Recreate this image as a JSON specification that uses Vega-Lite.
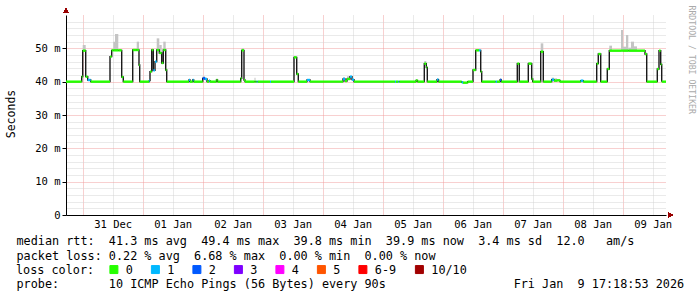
{
  "$schema": "https://vega.github.io/schema/vega-lite/v6.json",
  "width": 600,
  "height": 200,
  "autosize": {"type": "none"},
  "padding": {"left": 66, "top": 15, "right": 31, "bottom": 82},
  "background": "white",
  "config": {
    "view": {"stroke": null},
    "font": "DejaVu Sans Mono",
    "axis": {"labelFont": "DejaVu Sans Mono", "titleFont": "DejaVu Sans Mono", "titleFontWeight": "normal", "labelColor": "#000", "titleColor": "#000"}
  },
  "data": {"values": [
    {"t":"2025-12-30T17:19","t2":"2025-12-30T23:36","med":40.0,"loss":"0"},
    {"t":"2025-12-30T23:36","t2":"2025-12-31T00:00","med":41.5,"loss":"0"},
    {"t":"2025-12-31T00:00","t2":"2025-12-31T01:12","med":49.3,"loss":"0","smoke":51},
    {"t":"2025-12-31T01:12","t2":"2025-12-31T02:00","med":41.5,"loss":"0"},
    {"t":"2025-12-31T02:00","t2":"2025-12-31T03:12","med":40.5,"loss":"1"},
    {"t":"2025-12-31T03:12","t2":"2025-12-31T10:55","med":40.0,"loss":"0"},
    {"t":"2025-12-31T10:55","t2":"2025-12-31T11:36","med":47.5,"loss":"0"},
    {"t":"2025-12-31T11:36","t2":"2025-12-31T12:14","med":49.4,"loss":"0"},
    {"t":"2025-12-31T12:14","t2":"2025-12-31T12:55","med":49.4,"loss":"0","smoke":52},
    {"t":"2025-12-31T12:55","t2":"2025-12-31T14:14","med":49.4,"loss":"0","smoke":54.3},
    {"t":"2025-12-31T14:14","t2":"2025-12-31T15:36","med":49.4,"loss":"0"},
    {"t":"2025-12-31T15:36","t2":"2025-12-31T16:14","med":41.4,"loss":"0"},
    {"t":"2025-12-31T16:14","t2":"2025-12-31T20:00","med":40.0,"loss":"0"},
    {"t":"2025-12-31T20:00","t2":"2025-12-31T21:36","med":49.5,"loss":"0"},
    {"t":"2025-12-31T21:36","t2":"2025-12-31T22:31","med":49.5,"loss":"0","smoke":52},
    {"t":"2025-12-31T22:31","t2":"2025-12-31T22:48","med":45.0,"loss":"0"},
    {"t":"2025-12-31T22:48","t2":"2026-01-01T02:38","med":40.0,"loss":"0"},
    {"t":"2026-01-01T02:38","t2":"2026-01-01T02:55","med":40.3,"loss":"1"},
    {"t":"2026-01-01T02:55","t2":"2026-01-01T03:36","med":43.0,"loss":"0"},
    {"t":"2026-01-01T03:36","t2":"2026-01-01T04:14","med":49.5,"loss":"0"},
    {"t":"2026-01-01T04:14","t2":"2026-01-01T04:55","med":43.4,"loss":"1"},
    {"t":"2026-01-01T04:55","t2":"2026-01-01T05:36","med":46.0,"loss":"1"},
    {"t":"2026-01-01T05:36","t2":"2026-01-01T06:38","med":49.5,"loss":"0","smoke":53},
    {"t":"2026-01-01T06:38","t2":"2026-01-01T07:36","med":48.6,"loss":"0","smoke":51},
    {"t":"2026-01-01T07:36","t2":"2026-01-01T08:14","med":45.6,"loss":"0"},
    {"t":"2026-01-01T08:14","t2":"2026-01-01T09:12","med":49.5,"loss":"0","smoke":52},
    {"t":"2026-01-01T09:12","t2":"2026-01-01T09:36","med":43.5,"loss":"0"},
    {"t":"2026-01-01T09:36","t2":"2026-01-01T18:31","med":40.0,"loss":"0"},
    {"t":"2026-01-01T18:31","t2":"2026-01-01T18:55","med":40.5,"loss":"1"},
    {"t":"2026-01-01T18:55","t2":"2026-01-01T20:00","med":40.0,"loss":"0"},
    {"t":"2026-01-01T20:00","t2":"2026-01-01T20:24","med":40.5,"loss":"1"},
    {"t":"2026-01-01T20:24","t2":"2026-01-02T00:00","med":40.0,"loss":"0"},
    {"t":"2026-01-02T00:00","t2":"2026-01-02T00:55","med":41.0,"loss":"2","smoke":41.6},
    {"t":"2026-01-02T00:55","t2":"2026-01-02T01:43","med":40.8,"loss":"1"},
    {"t":"2026-01-02T01:43","t2":"2026-01-02T02:31","med":40.0,"loss":"0"},
    {"t":"2026-01-02T02:31","t2":"2026-01-02T02:55","med":40.3,"loss":"1"},
    {"t":"2026-01-02T02:55","t2":"2026-01-02T05:31","med":40.0,"loss":"0"},
    {"t":"2026-01-02T05:31","t2":"2026-01-02T05:55","med":40.5,"loss":"0"},
    {"t":"2026-01-02T05:55","t2":"2026-01-02T15:12","med":40.0,"loss":"0"},
    {"t":"2026-01-02T15:12","t2":"2026-01-02T15:36","med":41.0,"loss":"0"},
    {"t":"2026-01-02T15:36","t2":"2026-01-02T16:31","med":49.4,"loss":"0","smoke":50},
    {"t":"2026-01-02T16:31","t2":"2026-01-02T16:55","med":40.5,"loss":"0"},
    {"t":"2026-01-02T16:55","t2":"2026-01-02T20:43","med":40.0,"loss":"0"},
    {"t":"2026-01-02T20:43","t2":"2026-01-02T21:07","med":40.0,"loss":"0","smoke":41.2},
    {"t":"2026-01-02T21:07","t2":"2026-01-02T21:36","med":40.0,"loss":"0"},
    {"t":"2026-01-02T21:36","t2":"2026-01-02T22:00","med":40.0,"loss":"1"},
    {"t":"2026-01-02T22:00","t2":"2026-01-03T02:55","med":40.0,"loss":"0"},
    {"t":"2026-01-03T02:55","t2":"2026-01-03T03:19","med":40.0,"loss":"1"},
    {"t":"2026-01-03T03:19","t2":"2026-01-03T12:31","med":40.0,"loss":"0"},
    {"t":"2026-01-03T12:31","t2":"2026-01-03T13:36","med":47.3,"loss":"0"},
    {"t":"2026-01-03T13:36","t2":"2026-01-03T14:14","med":42.3,"loss":"0"},
    {"t":"2026-01-03T14:14","t2":"2026-01-03T17:43","med":40.0,"loss":"0"},
    {"t":"2026-01-03T17:43","t2":"2026-01-03T18:55","med":40.5,"loss":"1"},
    {"t":"2026-01-03T18:55","t2":"2026-01-04T08:07","med":40.0,"loss":"0"},
    {"t":"2026-01-04T08:07","t2":"2026-01-04T08:55","med":40.8,"loss":"1","smoke":41.3},
    {"t":"2026-01-04T08:55","t2":"2026-01-04T09:43","med":40.2,"loss":"0"},
    {"t":"2026-01-04T09:43","t2":"2026-01-04T10:55","med":40.8,"loss":"0","smoke":41.6},
    {"t":"2026-01-04T10:55","t2":"2026-01-04T11:43","med":41.5,"loss":"1"},
    {"t":"2026-01-04T11:43","t2":"2026-01-04T12:31","med":40.6,"loss":"1"},
    {"t":"2026-01-04T12:31","t2":"2026-01-05T04:55","med":40.0,"loss":"0"},
    {"t":"2026-01-05T04:55","t2":"2026-01-05T05:19","med":40.0,"loss":"1"},
    {"t":"2026-01-05T05:19","t2":"2026-01-05T06:14","med":40.0,"loss":"0"},
    {"t":"2026-01-05T06:14","t2":"2026-01-05T06:38","med":40.0,"loss":"1"},
    {"t":"2026-01-05T06:38","t2":"2026-01-05T13:19","med":40.0,"loss":"0"},
    {"t":"2026-01-05T13:19","t2":"2026-01-05T13:55","med":40.4,"loss":"0"},
    {"t":"2026-01-05T13:55","t2":"2026-01-05T16:38","med":40.0,"loss":"0"},
    {"t":"2026-01-05T16:38","t2":"2026-01-05T17:26","med":45.4,"loss":"0","smoke":46.2},
    {"t":"2026-01-05T17:26","t2":"2026-01-05T17:50","med":44.3,"loss":"0"},
    {"t":"2026-01-05T17:50","t2":"2026-01-05T21:43","med":40.0,"loss":"0"},
    {"t":"2026-01-05T21:43","t2":"2026-01-05T22:19","med":40.6,"loss":"1","smoke":41},
    {"t":"2026-01-05T22:19","t2":"2026-01-06T07:36","med":40.0,"loss":"0"},
    {"t":"2026-01-06T07:36","t2":"2026-01-06T08:07","med":39.8,"loss":"1"},
    {"t":"2026-01-06T08:07","t2":"2026-01-06T10:00","med":39.7,"loss":"0"},
    {"t":"2026-01-06T10:00","t2":"2026-01-06T12:07","med":40.0,"loss":"0"},
    {"t":"2026-01-06T12:07","t2":"2026-01-06T13:12","med":43.5,"loss":"0"},
    {"t":"2026-01-06T13:12","t2":"2026-01-06T14:31","med":49.4,"loss":"0"},
    {"t":"2026-01-06T14:31","t2":"2026-01-06T15:12","med":49.4,"loss":"1"},
    {"t":"2026-01-06T15:12","t2":"2026-01-06T15:36","med":43.0,"loss":"0"},
    {"t":"2026-01-06T15:36","t2":"2026-01-06T21:12","med":40.0,"loss":"0"},
    {"t":"2026-01-06T21:12","t2":"2026-01-06T21:43","med":40.0,"loss":"1"},
    {"t":"2026-01-06T21:43","t2":"2026-01-06T22:55","med":40.0,"loss":"0"},
    {"t":"2026-01-06T22:55","t2":"2026-01-06T23:26","med":40.5,"loss":"2","smoke":41},
    {"t":"2026-01-06T23:26","t2":"2026-01-07T05:50","med":40.0,"loss":"0"},
    {"t":"2026-01-07T05:50","t2":"2026-01-07T06:38","med":45.4,"loss":"0"},
    {"t":"2026-01-07T06:38","t2":"2026-01-07T10:14","med":40.0,"loss":"0"},
    {"t":"2026-01-07T10:14","t2":"2026-01-07T11:36","med":45.4,"loss":"0","smoke":45.9},
    {"t":"2026-01-07T11:36","t2":"2026-01-07T12:00","med":40.8,"loss":"0"},
    {"t":"2026-01-07T12:00","t2":"2026-01-07T15:12","med":40.0,"loss":"0"},
    {"t":"2026-01-07T15:12","t2":"2026-01-07T16:14","med":49.0,"loss":"0","smoke":51.5},
    {"t":"2026-01-07T16:14","t2":"2026-01-07T19:36","med":40.0,"loss":"0"},
    {"t":"2026-01-07T19:36","t2":"2026-01-07T20:31","med":40.6,"loss":"1","smoke":41.2},
    {"t":"2026-01-07T20:31","t2":"2026-01-07T21:43","med":40.3,"loss":"0","smoke":41},
    {"t":"2026-01-07T21:43","t2":"2026-01-07T22:55","med":40.4,"loss":"0"},
    {"t":"2026-01-07T22:55","t2":"2026-01-08T07:12","med":40.0,"loss":"0"},
    {"t":"2026-01-08T07:12","t2":"2026-01-08T08:14","med":40.3,"loss":"1"},
    {"t":"2026-01-08T08:14","t2":"2026-01-08T13:36","med":40.0,"loss":"0"},
    {"t":"2026-01-08T13:36","t2":"2026-01-08T14:14","med":45.4,"loss":"0"},
    {"t":"2026-01-08T14:14","t2":"2026-01-08T15:12","med":48.3,"loss":"0"},
    {"t":"2026-01-08T15:12","t2":"2026-01-08T17:50","med":40.0,"loss":"0"},
    {"t":"2026-01-08T17:50","t2":"2026-01-08T18:38","med":43.8,"loss":"0"},
    {"t":"2026-01-08T18:38","t2":"2026-01-08T19:43","med":49.3,"loss":"0","smoke":50.8},
    {"t":"2026-01-08T19:43","t2":"2026-01-08T23:19","med":49.3,"loss":"0"},
    {"t":"2026-01-08T23:19","t2":"2026-01-09T00:07","med":49.3,"loss":"0","smoke":55.5},
    {"t":"2026-01-09T00:07","t2":"2026-01-09T01:19","med":49.3,"loss":"0","smoke":50.5},
    {"t":"2026-01-09T01:19","t2":"2026-01-09T02:14","med":49.3,"loss":"0","smoke":54},
    {"t":"2026-01-09T02:14","t2":"2026-01-09T03:19","med":49.3,"loss":"0","smoke":50.2},
    {"t":"2026-01-09T03:19","t2":"2026-01-09T04:31","med":49.3,"loss":"0","smoke":52},
    {"t":"2026-01-09T04:31","t2":"2026-01-09T05:43","med":49.3,"loss":"0","smoke":50.6},
    {"t":"2026-01-09T05:43","t2":"2026-01-09T08:55","med":49.3,"loss":"0"},
    {"t":"2026-01-09T08:55","t2":"2026-01-09T09:36","med":48.3,"loss":"0"},
    {"t":"2026-01-09T09:36","t2":"2026-01-09T13:50","med":40.0,"loss":"0"},
    {"t":"2026-01-09T13:50","t2":"2026-01-09T14:31","med":43.8,"loss":"0"},
    {"t":"2026-01-09T14:31","t2":"2026-01-09T15:12","med":49.3,"loss":"0"},
    {"t":"2026-01-09T15:12","t2":"2026-01-09T15:36","med":45.2,"loss":"0"},
    {"t":"2026-01-09T15:36","t2":"2026-01-09T17:19","med":40.0,"loss":"0"}
  ]},
  "resolve": {"axis": {"x": "independent", "y": "independent"}},
  "layer": [
    {
      "transform": [{"filter": "datum.smoke != null"}],
      "mark": {"type": "rect", "color": "#c4c4c4"},
      "encoding": {
        "x": {"field": "t", "type": "temporal",
          "scale": {"domain": [{"year":2025,"month":12,"date":30,"hours":17,"minutes":19},{"year":2026,"month":1,"date":9,"hours":17,"minutes":19}]},
          "axis": {"orient": "bottom",
            "values": [{"year":2025,"month":12,"date":31},{"year":2026,"month":1,"date":1},{"year":2026,"month":1,"date":2},{"year":2026,"month":1,"date":3},{"year":2026,"month":1,"date":4},{"year":2026,"month":1,"date":5},{"year":2026,"month":1,"date":6},{"year":2026,"month":1,"date":7},{"year":2026,"month":1,"date":8},{"year":2026,"month":1,"date":9}],
            "grid": true, "gridColor": "#f0a0a0", "gridDash": [1, 1], "gridWidth": 1,
            "labels": false, "ticks": false, "tickSize": 0, "domain": false,
            "title": "probe:\u00a0\u00a0\u00a0\u00a0\u00a0\u00a0\u00a010 ICMP Echo Pings (56 Bytes) every 90s\u00a0\u00a0\u00a0\u00a0\u00a0\u00a0\u00a0\u00a0\u00a0\u00a0\u00a0\u00a0\u00a0\u00a0\u00a0\u00a0\u00a0\u00a0Fri Jan\u00a0\u00a09 17:18:53 2026",
            "titleX": -50, "titleY": 72.5, "titleAlign": "left", "titleBaseline": "alphabetic", "titleAngle": 0, "titleFontSize": 11.8}},
        "x2": {"field": "t2"},
        "y": {"field": "med", "type": "quantitative", "scale": {"domain": [0, 60], "nice": false},
          "axis": {"orient": "left", "values": [2,4,6,8,12,14,16,18,22,24,26,28,32,34,36,38,42,44,46,48,52,54,56,58],
            "grid": true, "gridColor": "#d4d4d4", "gridDash": [1, 1], "labels": false, "ticks": false, "domain": false, "title": null}},
        "y2": {"field": "smoke"}
      }
    },
    {
      "mark": {"type": "line", "interpolate": "step-after", "color": "#1a1a1a", "strokeWidth": 1.4},
      "encoding": {
        "x": {"field": "t", "type": "temporal",
          "scale": {"domain": [{"year":2025,"month":12,"date":30,"hours":17,"minutes":19},{"year":2026,"month":1,"date":9,"hours":17,"minutes":19}]},
          "axis": {"orient": "bottom",
            "values": [{"year":2025,"month":12,"date":31,"hours":12},{"year":2026,"month":1,"date":1,"hours":12},{"year":2026,"month":1,"date":2,"hours":12},{"year":2026,"month":1,"date":3,"hours":12},{"year":2026,"month":1,"date":4,"hours":12},{"year":2026,"month":1,"date":5,"hours":12},{"year":2026,"month":1,"date":6,"hours":12},{"year":2026,"month":1,"date":7,"hours":12},{"year":2026,"month":1,"date":8,"hours":12},{"year":2026,"month":1,"date":9,"hours":12}],
            "format": "%d %b", "grid": true, "gridColor": "#d4d4d4", "gridDash": [1, 1],
            "ticks": false, "tickSize": 0, "labelPadding": 4, "labelFontSize": 10.5, "labelAngle": 0, "labelFlush": false, "labelOverlap": false,
            "domain": true, "domainColor": "#000", "domainWidth": 1,
            "title": ["median rtt:\u00a0\u00a041.3 ms avg\u00a0\u00a049.4 ms max\u00a0\u00a039.8 ms min\u00a0\u00a039.9 ms now\u00a0\u00a03.4 ms sd\u00a0\u00a012.0\u00a0\u00a0\u00a0am/s", "packet loss: 0.22 % avg\u00a0\u00a06.68 % max\u00a0\u00a00.00 % min\u00a0\u00a00.00 % now"],
            "titleX": -50, "titleY": 29.5, "titleAlign": "left", "titleBaseline": "alphabetic", "titleAngle": 0, "titleFontSize": 11.8, "titleLineHeight": 14.5}},
        "y": {"field": "med", "type": "quantitative", "scale": {"domain": [0, 60], "nice": false},
          "axis": {"orient": "left", "values": [0, 10, 20, 30, 40, 50],
            "grid": true, "gridColor": {"condition": {"test": "datum.value == 0", "value": "transparent"}, "value": "#f0a0a0"}, "gridDash": [1, 1],
            "ticks": true, "tickSize": 4, "tickColor": "#000", "labelPadding": 2, "labelFontSize": 10.5,
            "labelExpr": "datum.value == 0 ? '0' : datum.value + ' m'",
            "domain": true, "domainColor": "#000", "domainWidth": 1,
            "title": "Seconds", "titleX": -55, "titleY": 98.5, "titleAngle": 270, "titleAlign": "center", "titleBaseline": "middle", "titleFontSize": 11.5}}
      }
    },
    {
      "mark": {"type": "rule", "strokeWidth": 2.4, "strokeCap": "butt"},
      "encoding": {
        "x": {"field": "t", "type": "temporal",
          "scale": {"domain": [{"year":2025,"month":12,"date":30,"hours":17,"minutes":19},{"year":2026,"month":1,"date":9,"hours":17,"minutes":19}]},
          "axis": null},
        "x2": {"field": "t2"},
        "y": {"field": "med", "type": "quantitative", "scale": {"domain": [0, 60], "nice": false},
          "axis": {"orient": "right", "labels": false, "ticks": false, "domain": false, "grid": false,
            "title": "RRDTOOL / TOBI OETIKER", "titleX": 24, "titleY": -10, "titleAngle": 90, "titleAlign": "left", "titleBaseline": "middle",
            "titleFontSize": 8.2, "titleColor": "#aaaaaa"}},
        "color": {"field": "loss", "type": "nominal",
          "scale": {"domain": ["0", "1", "2", "3", "4", "5", "6-9", "10/10"], "range": ["#26ff00", "#00b8ff", "#0059ff", "#7e00ff", "#ff00ff", "#ff5500", "#ff0000", "#a10000"]},
          "legend": {"orient": "none", "legendX": -50, "legendY": 248.5, "direction": "horizontal",
            "title": "loss color:", "titleOrient": "left", "titleAnchor": "middle", "titleBaseline": "middle", "titlePadding": 13,
            "titleFont": "DejaVu Sans Mono", "titleFontSize": 11.8, "titleFontWeight": "normal", "titleColor": "#000",
            "labelFont": "DejaVu Sans Mono", "labelFontSize": 11.8, "labelColor": "#000", "labelOffset": 6, "columnPadding": 15.5,
            "symbolType": "square", "symbolSize": 64, "symbolStrokeWidth": 1, "symbolStrokeColor": "#000", "padding": 0, "rowPadding": 0,
            "encode": {"symbols": {"update": {"fill": {"scale": "color", "field": "value"}, "stroke": {"value": "#000"}, "strokeWidth": {"value": 1}, "opacity": {"value": 1}}}}}}
      }
    },
    {
      "mark": {"type": "point", "shape": "triangle-right", "filled": true, "color": "#990000", "size": 22, "opacity": 1, "xOffset": 4.5},
      "encoding": {
        "x": {"datum": {"year":2026,"month":1,"date":9,"hours":17,"minutes":19}, "type": "temporal", "axis": null},
        "y": {"datum": 0, "type": "quantitative", "axis": null}
      }
    },
    {
      "mark": {"type": "point", "shape": "triangle-up", "filled": true, "color": "#990000", "size": 22, "opacity": 1, "yOffset": -4.5},
      "encoding": {
        "x": {"datum": {"year":2025,"month":12,"date":30,"hours":17,"minutes":19}, "type": "temporal", "axis": null},
        "y": {"datum": 60, "type": "quantitative", "axis": null}
      }
    }
  ]
}
